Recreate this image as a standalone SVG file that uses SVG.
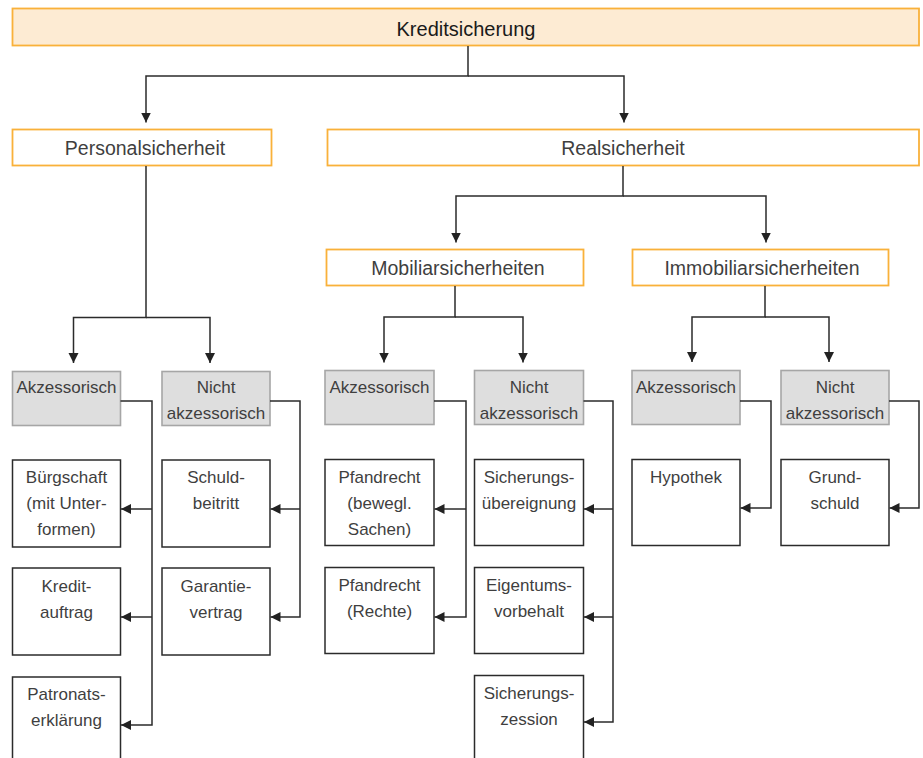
<svg xmlns="http://www.w3.org/2000/svg" width="923" height="758" viewBox="0 0 923 758">
<defs>
<marker id="ah" markerUnits="userSpaceOnUse" markerWidth="11" markerHeight="11" refX="10" refY="5" orient="auto">
<path d="M0,0 L10,5 L0,10 z" fill="#222"/>
</marker>
<style>
.top{fill:#fdebd3;stroke:#f9b13a;stroke-width:1.8}
.mid{fill:#fff;stroke:#f9b13a;stroke-width:1.8}
.grey{fill:#dedede;stroke:#a6a6a6;stroke-width:1.6}
.leaf{fill:#fff;stroke:#2b2b2b;stroke-width:1.5}
text{font-family:"Liberation Sans",Arial,sans-serif;text-anchor:middle;fill:#3f3f3f}
.t0{font-size:20px;fill:#1a1a1a}
.t1{font-size:19.5px}
.t2{font-size:17px}
#connectors path{fill:none;stroke:#2b2b2b;stroke-width:1.5}
.arr{marker-end:url(#ah)}
</style>
</defs>

<g id="n-kreditsicherung"><rect class="top" x="12.5" y="8.5" width="906.5" height="37"/><text class="t0" x="466" y="36">Kreditsicherung</text></g>

<g id="n-personal"><rect class="mid" x="12.5" y="129.5" width="259" height="36"/><text class="t1" x="145" y="155">Personalsicherheit</text></g>
<g id="n-real"><rect class="mid" x="327.5" y="129.5" width="591.5" height="36"/><text class="t1" x="623" y="155">Realsicherheit</text></g>

<g id="n-mobiliar"><rect class="mid" x="326.5" y="249.5" width="257" height="36"/><text class="t1" x="458" y="275">Mobiliarsicherheiten</text></g>
<g id="n-immobiliar"><rect class="mid" x="632.5" y="249.5" width="256" height="36"/><text class="t1" x="762" y="275">Immobiliarsicherheiten</text></g>

<g id="n-p-akz"><rect class="grey" x="12.5" y="371.5" width="108" height="54"/><text class="t2" x="66.5" y="393">Akzessorisch</text></g>
<g id="n-p-nakz"><rect class="grey" x="162" y="371.5" width="108" height="54"/><text class="t2" x="216" y="393">Nicht</text><text class="t2" x="216" y="419">akzessorisch</text></g>
<g id="n-m-akz"><rect class="grey" x="325" y="370.5" width="109" height="54"/><text class="t2" x="379.5" y="393">Akzessorisch</text></g>
<g id="n-m-nakz"><rect class="grey" x="474.5" y="370.5" width="109" height="54"/><text class="t2" x="529" y="393">Nicht</text><text class="t2" x="529" y="419">akzessorisch</text></g>
<g id="n-i-akz"><rect class="grey" x="632" y="370.5" width="108" height="54"/><text class="t2" x="686" y="393">Akzessorisch</text></g>
<g id="n-i-nakz"><rect class="grey" x="781" y="370.5" width="108" height="54"/><text class="t2" x="835" y="393">Nicht</text><text class="t2" x="835" y="419">akzessorisch</text></g>

<g id="n-buergschaft"><rect class="leaf" x="12.5" y="460" width="108" height="87"/><text class="t2" x="66.5" y="483">Bürgschaft</text><text class="t2" x="66.5" y="509">(mit Unter-</text><text class="t2" x="66.5" y="535">formen)</text></g>
<g id="n-kreditauftrag"><rect class="leaf" x="12.5" y="568" width="108" height="87"/><text class="t2" x="66.5" y="592">Kredit-</text><text class="t2" x="66.5" y="618">auftrag</text></g>
<g id="n-patronat"><rect class="leaf" x="12.5" y="677" width="108" height="120"/><text class="t2" x="66.5" y="700">Patronats-</text><text class="t2" x="66.5" y="726">erklärung</text></g>

<g id="n-schuldbeitritt"><rect class="leaf" x="162" y="460" width="108" height="87"/><text class="t2" x="216" y="483">Schuld-</text><text class="t2" x="216" y="509">beitritt</text></g>
<g id="n-garantie"><rect class="leaf" x="162" y="568" width="108" height="87"/><text class="t2" x="216" y="592">Garantie-</text><text class="t2" x="216" y="618">vertrag</text></g>

<g id="n-pfand1"><rect class="leaf" x="325" y="459.5" width="109" height="86"/><text class="t2" x="379.5" y="483">Pfandrecht</text><text class="t2" x="379.5" y="509">(bewegl.</text><text class="t2" x="379.5" y="535">Sachen)</text></g>
<g id="n-pfand2"><rect class="leaf" x="325" y="567.5" width="109" height="86"/><text class="t2" x="379.5" y="591">Pfandrecht</text><text class="t2" x="379.5" y="617">(Rechte)</text></g>

<g id="n-sue"><rect class="leaf" x="474.5" y="459.5" width="109" height="86"/><text class="t2" x="529" y="483">Sicherungs-</text><text class="t2" x="529" y="509">übereignung</text></g>
<g id="n-ev"><rect class="leaf" x="474.5" y="567.5" width="109" height="86"/><text class="t2" x="529" y="591">Eigentums-</text><text class="t2" x="529" y="617">vorbehalt</text></g>
<g id="n-sz"><rect class="leaf" x="474.5" y="675.5" width="109" height="120"/><text class="t2" x="529" y="699">Sicherungs-</text><text class="t2" x="529" y="725">zession</text></g>

<g id="n-hypothek"><rect class="leaf" x="632" y="459.5" width="108" height="86"/><text class="t2" x="686" y="483">Hypothek</text></g>
<g id="n-grundschuld"><rect class="leaf" x="781" y="459.5" width="108" height="86"/><text class="t2" x="835" y="483">Grund-</text><text class="t2" x="835" y="509">schuld</text></g>

<g id="connectors">
<path class="arr" d="M468,46 V76 H146 V122.5"/>
<path class="arr" d="M468,76 H624 V122.5"/>
<path class="arr" d="M146,166 V317.5 H73.5 V363"/>
<path class="arr" d="M146,317.5 H210 V363"/>
<path class="arr" d="M623,166 V196 H456 V242.5"/>
<path class="arr" d="M623,196 H766 V242.5"/>
<path class="arr" d="M455,286 V317 H384 V362.5"/>
<path class="arr" d="M455,317 H523 V362.5"/>
<path class="arr" d="M765,286 V317 H692 V362"/>
<path class="arr" d="M765,317 H829 V362"/>
<path class="arr" d="M120.5,401 H152 V725 H121"/>
<path class="arr" d="M152,509 H121"/>
<path class="arr" d="M152,617 H121"/>
<path class="arr" d="M270,401 H300 V617 H270.5"/>
<path class="arr" d="M300,509 H270.5"/>
<path class="arr" d="M434,401 H466 V617 H434.5"/>
<path class="arr" d="M466,509 H434.5"/>
<path class="arr" d="M583.5,401 H613 V722 H584"/>
<path class="arr" d="M613,509 H584"/>
<path class="arr" d="M613,617 H584"/>
<path class="arr" d="M740,401 H771 V508 H740.5"/>
<path class="arr" d="M889,401 H919 V508 H889.5"/>
</g>
</svg>
